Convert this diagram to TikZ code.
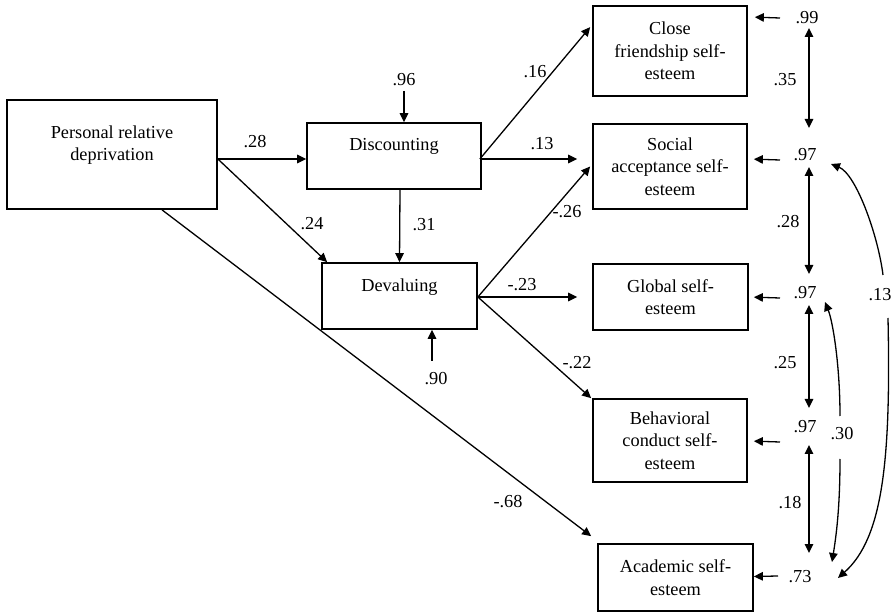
\documentclass[tikz,border=0pt]{standalone}
\usepackage{fontspec}
\setmainfont{Liberation Serif}
\usetikzlibrary{arrows.meta}
\newcommand\dgfont{\fontsize{18.3pt}{22.5pt}\selectfont}
\begin{document}
\begin{tikzpicture}[x=1pt,y=-1pt,
  box/.style={draw, line width=1.7pt, inner sep=0pt, align=center, font=\dgfont},
  lab/.style={inner sep=0pt, font=\dgfont},
  arr/.style={-{Triangle[length=9pt,width=8.5pt]}, line width=1.3pt},
  darr/.style={{Triangle[length=9pt,width=8.5pt]}-{Triangle[length=9pt,width=8.5pt]}, line width=1.3pt}]
\fill[white] (0,0) rectangle (895,612);
\useasboundingbox (0,0) rectangle (895,612);
% boxes
\node[box, minimum width=210, minimum height=109] (prd) at (112,154.5) {Personal relative\\deprivation\\\mbox{}};
\node[box, minimum width=174, minimum height=66] (disc) at (394,156) {Discounting\\\mbox{}};
\node[box, minimum width=155, minimum height=66] (dev) at (399.5,296) {Devaluing\\\mbox{}};
\node[box, minimum width=154, minimum height=90] (close) at (670,51) {Close\\friendship self-\\esteem};
\node[box, minimum width=154, minimum height=85] (social) at (670,166.5) {Social\\acceptance self-\\esteem};
\node[box, minimum width=155, minimum height=66] (global) at (670.5,297) {Global self-\\esteem};
\node[box, minimum width=154, minimum height=83] (behav) at (670,440.5) {Behavioral\\conduct self-\\esteem};
\node[box, minimum width=155, minimum height=67] (acad) at (675.5,577.5) {Academic self-\\esteem};
% error terms
\node[lab] (e96) at (404,80) {.96};
\node[lab] (e90) at (436,379) {.90};
\node[lab] (e99) at (807,18) {.99};
\node[lab] (e97a) at (805,155) {.97};
\node[lab] (e97b) at (805,293) {.97};
\node[lab] (e97c) at (805,427) {.97};
\node[lab] (e73) at (800,577) {.73};
% path labels
\node[lab] (l28) at (255,142) {.28};
\node[lab] (l24) at (312,224) {.24};
\node[lab] (l31) at (424,225) {.31};
\node[lab] (l16) at (535,72) {.16};
\node[lab] (l13p) at (542,144) {.13};
\node[lab] (l26) at (567,212) {-.26};
\node[lab] (l23) at (522,285) {-.23};
\node[lab] (l22) at (577,363) {-.22};
\node[lab] (l68) at (508,502) {-.68};
\node[lab] (l35) at (785,80) {.35};
\node[lab] (l28b) at (788,222) {.28};
\node[lab] (l25) at (785,363) {.25};
\node[lab] (l18) at (790,503) {.18};
\node[lab] (c13) at (880,295) {.13};
\node[lab] (c30) at (842,434) {.30};
% structural paths
\draw[arr] ([shift={(0,4.5)}]prd.east) -- ([shift={(0,3)}]disc.west);
\draw[arr] ([shift={(0,4.5)}]prd.east) -- ([shift={(6,0)}]dev.north west);
\draw[arr] ([shift={(50,0)}]prd.south) -- ([shift={(-6,-7)}]acad.north west);
\draw[arr] ([shift={(6,0)}]disc.south) -- (dev.north);
\draw[arr] ([shift={(0,11)}]e96.center) -- ([shift={(10,0)}]disc.north);
\draw[arr] ([shift={(-4,-18)}]e90.center) -- ([shift={(32.5,0)}]dev.south);
\draw[arr] ([shift={(-2,3)}]disc.east) -- ([shift={(-2,22)}]close.north west);
\draw[arr] ([shift={(-2,3)}]disc.east) -- ([shift={(-15,-7.5)}]social.west);
\draw[arr] ([shift={(0,1)}]dev.east) -- ([shift={(-2,0)}]social.west);
\draw[arr] ([shift={(0,1)}]dev.east) -- ([shift={(-15,0)}]global.west);
\draw[arr] ([shift={(0,1)}]dev.east) -- ([shift={(-1,0)}]behav.north west);
% residual arrows
\draw[arr] ([shift={(-27,0)}]e99.center) -- ([shift={(7,12)}]close.north east);
\draw[arr] ([shift={(-25,5)}]e97a.center) -- ([shift={(6,36)}]social.north east);
\draw[arr] ([shift={(-25,5)}]e97b.center) -- ([shift={(5,34)}]global.north east);
\draw[arr] ([shift={(-25,15)}]e97c.center) -- ([shift={(6,43)}]behav.north east);
\draw[arr] ([shift={(-22,-1)}]e73.center) -- ([shift={(0,-1)}]acad.east);
% correlations between residuals
\draw[darr] ([shift={(2,10)}]e99.center) -- ([shift={(4,-27)}]e97a.center);
\draw[darr] ([shift={(4,12)}]e97a.center) -- ([shift={(4,-19)}]e97b.center);
\draw[darr] ([shift={(4,12)}]e97b.center) -- ([shift={(4,-19)}]e97c.center);
\draw[darr] ([shift={(4,18)}]e97c.center) -- ([shift={(9,-24)}]e73.center);
\draw[arr] ([shift={(3,-20)}]c13.center) .. controls +(-5,-40) and +(25,10) .. ([shift={(26,9)}]e97a.center);
\draw[arr] ([shift={(8,23)}]c13.center) .. controls +(3,142) and +(45,-40) .. ([shift={(38,1)}]e73.center);
\draw[arr] ([shift={(-2,-18)}]c30.center) .. controls +(0,-50) and +(8,20) .. ([shift={(20,9)}]e97b.center);
\draw[arr] ([shift={(-2,25)}]c30.center) .. controls +(0,50) and +(4,-25) .. ([shift={(32,-15)}]e73.center);
\end{tikzpicture}
\end{document}
